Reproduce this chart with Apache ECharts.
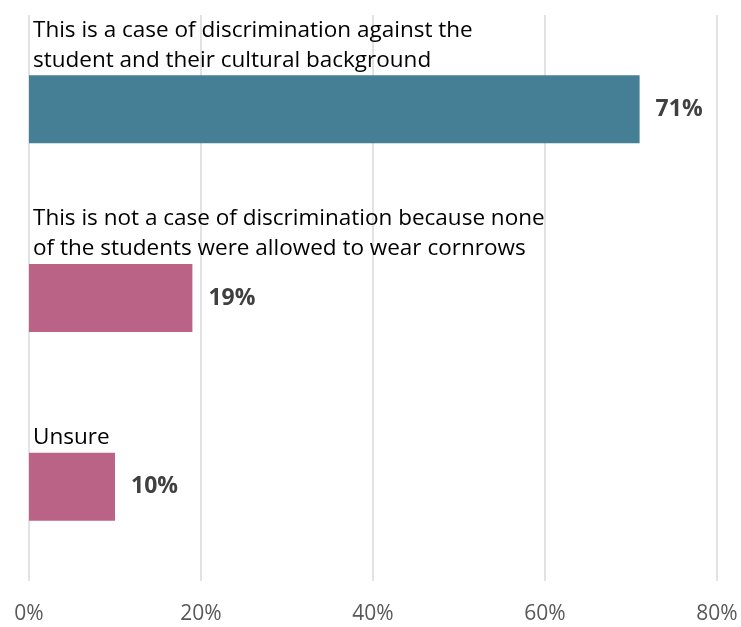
<!DOCTYPE html>
<html>
<head>
<meta charset="utf-8">
<script src="https://cdn.jsdelivr.net/npm/echarts@6/dist/echarts.min.js"></script>
<style>
  html, body { margin: 0; padding: 0; background: #fff; }
  #chart { width: 741px; height: 627px; }
</style>
</head>
<body>
<div id="chart"></div>
<script>
// answer options, top to bottom
var categories = [
  'This is a case of discrimination against the\nstudent and their cultural background',
  'This is not a case of discrimination because none\nof the students were allowed to wear cornrows',
  'Unsure'
]
var values = [71, 19, 10]
var barColors = ['#457f95', '#bb6387', '#bb6387']
var tickLabels = ['0%', '20%', '40%', '60%', '80%']

var font = '"Open Sans", "Noto Sans", sans-serif'
var chart = echarts.init(document.getElementById('chart'))

chart.setOption({
  animation: false,
  grid: { left: 29, right: 24, top: 15, bottom: 46, containLabel: false },
  xAxis: {
    type: 'value',
    min: 0,
    max: 80,
    interval: 20,
    axisLine: { show: false },
    axisTick: { show: false },
    splitLine: { lineStyle: { color: '#d9d9d9', width: 1.5 } },
    axisLabel: {
      margin: 23,
      fontFamily: font,
      fontSize: 21,
      color: '#595959',
      formatter: function (v) { return tickLabels[v / 20] }
    }
  },
  yAxis: {
    type: 'category',
    inverse: true,
    data: categories,
    axisLine: { show: false },
    axisTick: { show: false },
    axisLabel: { show: false }
  },
  series: [
    {
      // the bars with their value labels
      type: 'bar',
      barWidth: 68,
      data: values.map(function (v, i) {
        return { value: v, itemStyle: { color: barColors[i] } }
      }),
      label: {
        show: true,
        position: 'right',
        distance: 16,
        fontFamily: font,
        fontSize: 23,
        fontWeight: 'bold',
        color: '#404040',
        formatter: '{c}%'
      }
    },
    {
      // same bars, invisible, only to place the answer text above each bar
      type: 'bar',
      barWidth: 68,
      barGap: '-100%',
      silent: true,
      data: values,
      itemStyle: { color: 'rgba(0,0,0,0)' },
      label: {
        show: true,
        position: [4, 0],
        align: 'left',
        verticalAlign: 'bottom',
        fontFamily: font,
        fontSize: 22.5,
        lineHeight: 30,
        color: '#000',
        formatter: function (p) { return categories[p.dataIndex] }
      }
    }
  ]
})
</script>
</body>
</html>
